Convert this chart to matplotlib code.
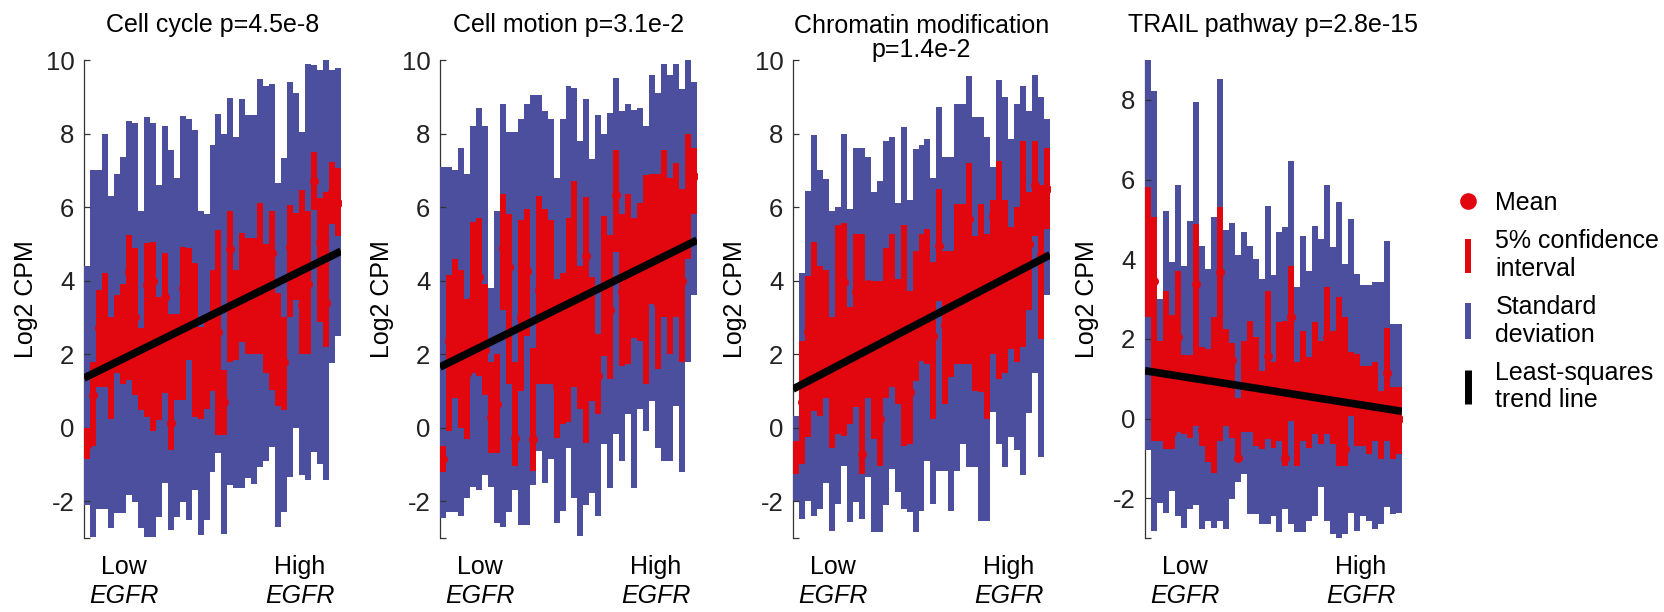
import numpy as np
import matplotlib
matplotlib.use('Agg')
import matplotlib.pyplot as plt
from matplotlib.lines import Line2D

plt.rcParams['font.family'] = ['Liberation Sans', 'DejaVu Sans']
plt.rcParams['axes.unicode_minus'] = False

BLUE = '#4b4f9d'
RED = '#e2060f'

titles = ['Cell cycle p=4.5e-8', 'Cell motion p=3.1e-2',
          'Chromatin modification\np=1.4e-2', 'TRAIL pathway p=2.8e-15']
y_tops = [10, 10, 10, 9]

# Cell cycle
cycle_sd_hi = [4.4, 7.0, 7.0, 8.0, 6.3, 6.9, 7.37, 8.34, 8.3, 5.9, 8.44, 8.3, 6.6, 8.2, 7.55, 6.8, 8.48, 8.4, 8.1, 5.9,
               5.8, 7.7, 8.53, 8.0, 8.98, 7.9, 8.93, 8.5, 8.5, 9.47, 9.3, 9.34, 6.65, 7.33, 9.41, 9.1, 8.05, 9.9, 9.86, 9.73,
               10.0, 9.73, 9.77]
cycle_sd_lo = [-2.1, -2.97, -2.2, -2.2, -2.74, -2.33, -2.33, -1.84, -2.02, -2.74, -2.97, -2.97, -2.43, -1.5, -2.79, -2.43,
               -2.02, -2.52, -1.7, -2.92, -2.52, -1.2, -0.7, -2.88, -1.56, -1.65, -1.65, -1.38, -1.52, -1.07, -0.9, -0.52,
               -2.7, -2.29, -1.34, 0.0, -1.29, -1.41, -0.66, -1.0, -1.41, 1.75, 2.5]
cycle_ci_hi = [0.0, 1.8, 3.75, 4.2, 3.0, 3.6, 3.9, 5.24, 4.9, 2.7, 5.03, 5.06, 3.56, 4.74, 3.1, 3.1, 4.92, 4.88, 4.47, 2.75,
               3.0, 4.3, 5.38, 1.57, 5.88, 4.3, 5.3, 5.15, 5.15, 6.1, 5.0, 5.9, 3.65, 3.0, 6.05, 5.83, 6.46, 5.88, 7.5, 6.24,
               6.4, 7.23, 7.05]
cycle_ci_lo = [-0.85, -0.5, 1.1, 1.1, 0.25, 1.5, 1.2, 1.3, 0.9, 0.48, 0.3, -0.1, 0.2, 0.93, -0.6, 0.75, 0.75, 1.84, 0.3, 0.25,
               0.5, 1.0, -0.2, -0.2, 1.8, 1.84, 2.34, 2.0, 2.0, 2.0, 1.48, 1.02, 0.6, 0.48, 3.0, 3.47, 2.0, 2.0, 5.92, 2.88,
               2.2, 5.55, 5.2]
cycle_mean = [-0.47, 0.9, 2.7, 2.6, 1.6, 2.5, 2.6, 4.24, 3.0, 1.6, 3.88, 4.0, 1.9, 3.56, 0.12, 1.9, 3.8, 3.3, 2.4, 1.5,
              1.48, 2.6, 2.6, 0.7, 4.85, 2.93, 3.8, 3.6, 3.5, 3.3, 3.2, 4.74, 1.75, 1.8, 4.92, 4.6, 3.34, 3.9, 6.72, 5.06,
              3.4, 6.42, 6.12]
cycle_trend = [1.35, 4.8]

# Cell motion
motion_sd_hi = [7.1, 7.1, 7.0, 7.6, 6.9, 8.2, 8.7, 8.2, 3.8, 5.9, 8.8, 8.05, 8.05, 8.4, 8.8, 9.05, 9.05, 8.6, 8.4, 6.8,
                8.4, 9.3, 9.25, 7.8, 8.95, 7.3, 8.5, 8.0, 8.55, 9.5, 8.6, 8.8, 8.65, 8.7, 8.2, 9.6, 9.1, 9.9, 9.6, 9.9,
                9.2, 10.0, 9.4]
motion_sd_lo = [-2.45, -2.3, -2.3, -2.4, -1.9, -1.6, -1.7, -1.3, -1.6, -2.6, -2.7, -2.3, -1.7, -2.64, -2.64, -1.55, -0.64,
                -1.5, -0.86, -2.59, -2.27, -0.55, -1.91, -2.95, -2.09, -1.77, -2.41, -0.45, -1.64, -0.18, -0.9, 0.36,
                -1.64, 0.5, -0.09, 0.73, -0.55, -0.91, -0.9, 0.6, -1.2, 1.8, 3.6]
motion_ci_hi = [-0.5, 4.14, 4.6, 4.3, 3.5, 5.6, 5.7, 3.9, 1.8, 2.0, 6.35, 5.8, 1.8, 5.64, 5.95, 2.18, 6.3, 5.95, 5.64, 4.05,
                4.2, 5.7, 6.7, 4.4, 6.27, 4.1, 2.55, 5.77, 5.23, 7.55, 5.8, 6.36, 5.7, 6.1, 6.86, 6.9, 6.9, 7.55, 6.8, 7.2,
                6.5, 8.0, 7.6]
motion_ci_lo = [-1.2, -0.1, 0.8, 0.0, -0.3, 1.5, 1.4, 0.9, -0.7, -0.7, 3.2, 1.2, -1.05, 1.0, 2.5, -1.18, 1.2, 1.2, 1.2,
                -0.27, 0.1, 0.15, 1.1, 0.5, -0.41, 0.73, 0.36, 1.95, 1.32, 4.77, 1.68, 1.73, 2.45, 2.36, 1.2, 3.36, 1.6,
                3.0, 2.0, 3.0, 1.8, 4.6, 5.8]
motion_mean = [-0.85, 2.36, 2.5, 1.0, 1.5, 3.5, 4.1, 2.1, 0.3, 0.64, 4.9, 4.36, -0.27, 3.0, 4.27, -0.3, 3.75, 3.5, 3.2,
               1.14, 1.55, 3.0, 3.9, 1.18, 4.68, 2.5, 1.4, 3.8, 3.2, 6.32, 3.7, 4.0, 2.6, 4.2, 4.0, 5.27, 3.36, 6.73,
               4.4, 5.2, 4.0, 6.2, 6.85]
motion_trend = [1.65, 5.1]

# Chromatin modification
chrom_sd_hi = [0.33, 4.22, 6.45, 7.97, 7.0, 6.76, 5.9, 6.0, 7.99, 5.95, 7.6, 7.6, 7.35, 6.4, 6.72, 7.8, 7.9, 6.1, 8.17, 6.2,
               7.58, 7.7, 7.85, 6.8, 8.73, 7.37, 7.37, 8.8, 8.8, 9.57, 8.46, 8.46, 7.9, 7.08, 9.46, 9.0, 7.85, 8.8, 9.3,
               8.6, 9.6, 9.0, 8.4]
chrom_sd_lo = [-2.0, -2.48, -2.0, -2.4, -2.2, -1.5, -2.8, -2.08, -1.03, -2.57, -2.03, -2.48, -1.35, -2.85, -2.85, -2.1,
               -1.12, -1.76, -2.2, -2.3, -2.85, -2.26, -0.9, -2.08, -1.17, -1.17, -2.26, -1.17, -0.45, -1.08, -1.08,
               -2.53, -2.53, 0.42, -0.45, -1.08, -0.26, -0.6, -1.3, 0.4, 1.5, -0.8, 3.6]
chrom_ci_hi = [-0.35, 2.37, 4.13, 5.04, 4.4, 4.3, 3.0, 5.5, 5.58, 3.27, 5.27, 5.27, 4.0, 4.0, 4.0, 4.9, 5.27, 4.04, 5.5,
               3.73, 4.8, 5.27, 5.4, 4.5, 6.5, 4.8, 4.8, 6.08, 6.08, 7.2, 5.2, 6.08, 5.27, 6.2, 7.26, 6.2, 5.45, 6.0, 7.8,
               6.4, 7.8, 6.6, 7.6]
chrom_ci_lo = [-1.26, -0.99, -0.26, 0.46, 0.33, 0.8, -0.54, -0.17, -0.22, 0.1, 0.55, -1.26, 0.82, -0.3, -1.03, 0.82, 1.1,
               0.64, -0.49, -0.44, 1.28, 1.82, 1.73, 0.24, 3.45, 0.64, 1.37, 1.73, 1.73, 1.73, 1.0, 0.96, 0.24, 2.0, 1.32,
               1.5, 2.14, 1.8, 2.2, 3.2, 5.2, 2.4, 5.4]
chrom_mean = [-0.76, 0.7, 2.6, 2.8, 2.4, 2.6, 1.2, 2.5, 3.95, 1.64, 3.68, -0.72, 3.9, 1.8, 0.24, 2.6, 3.2, 2.3, 2.5, 0.96,
              3.0, 3.5, 3.3, 2.5, 4.95, 2.8, 3.0, 3.9, 3.7, 5.67, 3.6, 3.5, 2.8, 5.77, 4.0, 4.2, 3.8, 3.9, 4.4, 5.0, 6.6,
              4.7, 6.5]
chrom_trend = [1.05, 4.7]

# TRAIL pathway
trail_sd_hi = [9.0, 8.23, 3.0, 5.22, 3.92, 5.85, 3.84, 4.97, 7.94, 4.34, 3.75, 5.05, 8.53, 4.72, 4.9, 4.1, 4.67, 4.34, 4.0,
               3.5, 5.34, 3.6, 4.67, 4.8, 6.47, 3.3, 4.59, 3.71, 4.84, 4.5, 5.85, 4.3, 5.43, 3.88, 5.01, 3.63, 3.34, 3.34,
               3.42, 3.42, 4.46, 2.38, 2.38]
trail_sd_lo = [-0.8, -2.82, -2.11, -2.36, -1.82, -2.44, -2.74, -2.28, -2.16, -2.78, -2.57, -2.74, -2.57, -2.78, -2.03, -1.6,
               -1.4, -2.4, -2.4, -2.65, -2.65, -2.44, -2.86, -2.28, -2.65, -2.86, -2.86, -2.57, -2.44, -1.73, -2.57, -2.9,
               -2.99, -2.9, -2.36, -2.82, -2.44, -2.57, -2.78, -2.65, -2.23, -2.4, -2.36]
trail_ci_hi = [5.8, 5.05, 1.95, 3.2, 2.6, 3.7, 1.6, 1.6, 4.88, 1.8, 1.74, 2.54, 5.3, 2.25, 1.9, 0.52, 1.95, 2.45, 2.04, 1.2,
               3.2, 1.41, 2.42, 2.45, 3.84, 1.41, 2.2, 1.54, 2.42, 1.95, 3.29, 2.2, 3.04, 2.54, 1.66, 1.62, 1.32, 1.32,
               1.41, 0.7, 2.28, 0.78, 0.78]
trail_ci_lo = [2.54, -0.56, -0.56, -0.77, -0.77, -0.35, -0.4, -0.5, -0.2, -0.7, -1.1, -1.36, -0.56, -0.18, -0.5, -1.1, -0.35,
               -0.35, -0.68, -0.77, -0.52, -0.73, -0.56, -1.19, -0.06, -1.19, -0.56, -0.73, -0.39, -0.64, -0.39, -0.64,
               -1.19, -1.19, 0.07, -0.68, -0.68, -0.9, -0.56, -1.02, -0.56, -1.02, -0.9]
trail_mean = [4.17, 3.46, 0.14, 1.58, -0.35, 2.04, 0.3, 0.14, 3.37, -0.3, -0.44, -0.2, 3.67, 1.2, 1.46, -0.98, 0.8, 1.0,
              0.7, 0.2, 1.58, 0.4, 0.9, -1.0, 2.54, 0.19, 0.8, 0.3, 1.0, 0.6, 2.04, 1.83, 0.9, -0.77, 0.8, 0.5, 0.3, 0.2,
              0.4, -0.1, 1.13, -0.1, 0.0]
trail_trend = [1.2, 0.18]

panels = [
    (cycle_sd_hi, cycle_sd_lo, cycle_ci_hi, cycle_ci_lo, cycle_mean, cycle_trend),
    (motion_sd_hi, motion_sd_lo, motion_ci_hi, motion_ci_lo, motion_mean, motion_trend),
    (chrom_sd_hi, chrom_sd_lo, chrom_ci_hi, chrom_ci_lo, chrom_mean, chrom_trend),
    (trail_sd_hi, trail_sd_lo, trail_ci_hi, trail_ci_lo, trail_mean, trail_trend),
]

W, H = 1665, 612
lefts = [84, 440, 793, 1145]
ax_w = 257
ax_top, ax_bot = 60, 538

fig = plt.figure(figsize=(W / 100, H / 100), dpi=100)

for k, (sd_hi, sd_lo, ci_hi, ci_lo, mean, trend) in enumerate(panels):
    ax = fig.add_axes([lefts[k] / W, (H - ax_bot) / H, ax_w / W, (ax_bot - ax_top) / H])
    n = len(mean)
    x = np.arange(n)
    sd_hi, sd_lo = np.array(sd_hi), np.array(sd_lo)
    ci_hi, ci_lo = np.array(ci_hi), np.array(ci_lo)

    ax.bar(x, sd_hi - sd_lo, bottom=sd_lo, width=1.0, color=BLUE, linewidth=0, zorder=1)
    ax.bar(x, ci_hi - ci_lo, bottom=ci_lo, width=1.0, color=RED, linewidth=0, zorder=2)
    ax.plot(x, mean, 'o', color=RED, ms=6.5, mec='none', zorder=3)
    ax.plot([-0.5, n - 0.5], trend, color='black', lw=5.5, solid_capstyle='butt', zorder=4)

    ax.set_xlim(-0.5, n - 0.5)
    ax.set_ylim(-3, y_tops[k])
    ax.set_yticks(range(-2, y_tops[k] + 1, 2))
    ax.set_yticks([-3], minor=True)
    ax.set_xticks([])
    ax.tick_params(axis='y', which='both', direction='in', length=4, width=0.9,
                   pad=7, labelsize=18.5, color='#333333', labelcolor='#222222')
    for side in ['top', 'right', 'bottom']:
        ax.spines[side].set_visible(False)
    ax.spines['left'].set_color('#333333')
    ax.spines['left'].set_linewidth(0.9)
    ax.spines['left'].set_zorder(0.5)
    ax.patch.set_alpha(0)

    ax.set_ylabel('Log2 CPM', fontsize=18)
    ax.yaxis.set_label_coords(-0.178, 0.5)

    ax.text(0.155, -0.061, 'Low', transform=ax.transAxes, ha='center', va='center', fontsize=18)
    ax.text(0.155, -0.121, 'EGFR', transform=ax.transAxes, ha='center', va='center',
            fontsize=18, style='italic')
    ax.text(0.84, -0.061, 'High', transform=ax.transAxes, ha='center', va='center', fontsize=18)
    ax.text(0.84, -0.121, 'EGFR', transform=ax.transAxes, ha='center', va='center',
            fontsize=18, style='italic')

    cx = (lefts[k] + ax_w / 2) / W
    if '\n' in titles[k]:
        fig.text(cx, 1 - 38 / H, titles[k], ha='center', va='center', fontsize=18, linespacing=1.05)
    else:
        fig.text(cx, 1 - 25 / H, titles[k], ha='center', va='center', fontsize=18)

handles = [
    Line2D([], [], marker='o', ls='none', color=RED, ms=12, mec='none'),
    Line2D([], [], marker='|', ls='none', color=RED, ms=25, mew=4.3),
    Line2D([], [], marker='|', ls='none', color=BLUE, ms=26, mew=4.3),
    Line2D([], [], marker='|', ls='none', color='black', ms=25, mew=5),
]
labels = ['Mean', '5% confidence\ninterval', 'Standard\ndeviation', 'Least-squares\ntrend line']
fig.legend(handles, labels, loc='upper left', bbox_to_anchor=(1455.5 / W, 1 - 191 / H),
           frameon=False, fontsize=18, handlelength=1.0, handletextpad=0.6,
           labelspacing=0.56, borderpad=0, borderaxespad=0)

fig.savefig('out.png', dpi=100)
